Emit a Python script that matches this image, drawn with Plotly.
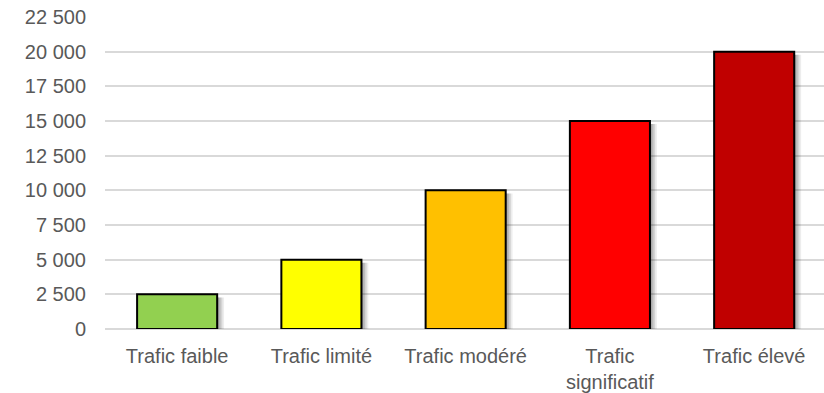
import plotly.graph_objects as go

# Traffic levels and their volumes
categories = ["Trafic faible", "Trafic limité", "Trafic modéré", "Trafic<br>significatif", "Trafic élevé"]
values = [2500, 5000, 10000, 15000, 20000]
colors = ["#92D050", "#FFFF00", "#FFC000", "#FF0000", "#C00000"]
tick_values = [0, 2500, 5000, 7500, 10000, 12500, 15000, 17500, 20000, 22500]
tick_labels = ["0", "2 500", "5 000", "7 500", "10 000", "12 500", "15 000", "17 500", "20 000", "22 500"]

BAR_WIDTH = 0.555
FONT = dict(family="Liberation Sans, Arial, sans-serif", size=20, color="#595959")

fig = go.Figure()

# soft drop shadow: a few translucent copies shifted right and down
for shift, alpha in [(0.012, 0.13), (0.024, 0.12), (0.036, 0.10), (0.048, 0.07)]:
    fig.add_trace(go.Bar(
        x=categories, y=values, base=-220,
        width=BAR_WIDTH, offset=-BAR_WIDTH / 2 + shift,
        marker=dict(color=f"rgba(0,0,0,{alpha})", line=dict(width=0)),
        hoverinfo="skip", showlegend=False,
    ))

fig.add_trace(go.Bar(
    x=categories, y=values,
    width=BAR_WIDTH, offset=-BAR_WIDTH / 2,
    marker=dict(color=colors, line=dict(color="#000000", width=2)),
    showlegend=False,
))

fig.update_layout(
    width=824, height=393,
    margin=dict(l=105, r=0, t=17, b=64),
    paper_bgcolor="white", plot_bgcolor="white",
    barmode="overlay",
    font=FONT,
    xaxis=dict(range=[-0.5, 4.484], showline=False, showgrid=False, ticks="",
               tickfont=FONT, ticklabelstandoff=13),
    yaxis=dict(
        range=[0, 22500], tickvals=tick_values, ticktext=tick_labels,
        showgrid=True, gridcolor="#D9D9D9", gridwidth=1.5,
        zeroline=True, zerolinecolor="#D9D9D9", zerolinewidth=1.5,
        showline=False, ticks="", ticklabelstandoff=18, tickfont=FONT,
    ),
)

fig.write_html("out.html")
